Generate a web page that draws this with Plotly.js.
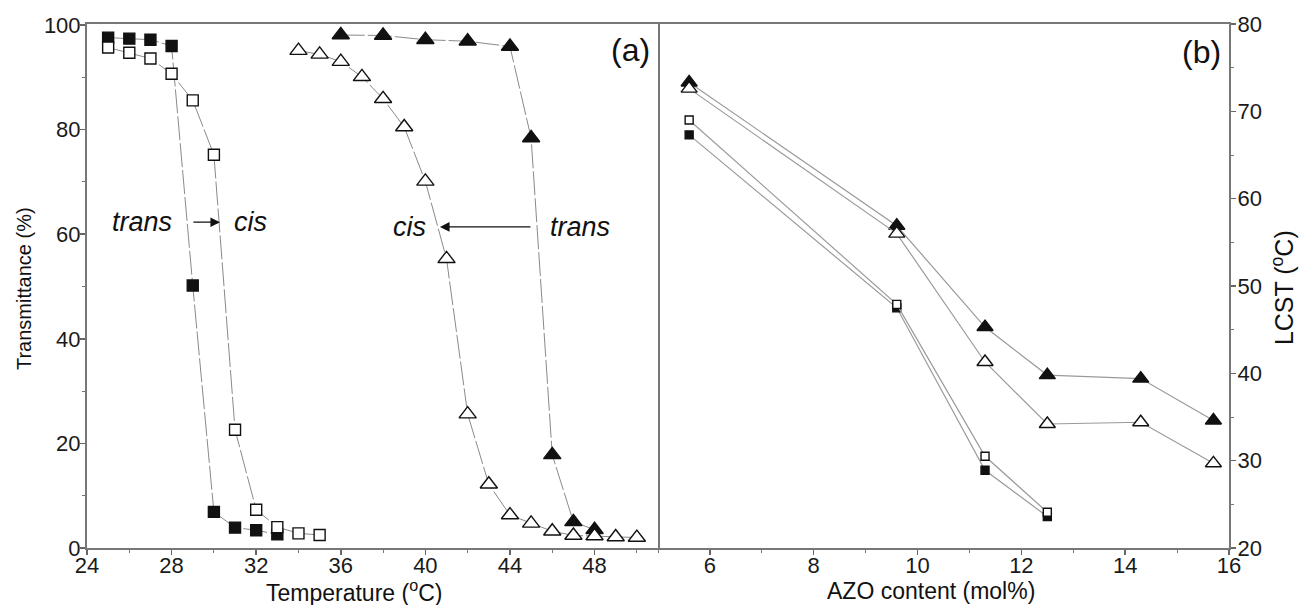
<!DOCTYPE html>
<html>
<head>
<meta charset="utf-8">
<script src="https://cdn.plot.ly/plotly-3.0.1.min.js"></script>
<style>html,body{margin:0;padding:0;background:#fff;}#chart{width:1301px;height:605px;}</style>
</head>
<body>
<div id="chart"></div>
<script>
// Panel (a): transmittance vs temperature
const tempSqTrans = [25, 26, 27, 28, 29, 30, 31, 32, 33];
const sqTransT    = [97.6, 97.4, 97.2, 96.0, 50.2, 6.9, 3.9, 3.4, 2.6];
const tempSqCis   = [25, 26, 27, 28, 29, 30, 31, 32, 33, 34, 35];
const sqCisT      = [95.7, 94.7, 93.6, 90.7, 85.6, 75.2, 22.6, 7.3, 4.0, 2.8, 2.5];
const tempTriTrans = [36, 38, 40, 42, 44, 45, 46, 47, 48];
const triTransT    = [98.1, 98.0, 97.2, 96.9, 95.9, 78.4, 17.8, 5.0, 3.5];
const tempTriCis   = [34, 35, 36, 37, 38, 39, 40, 41, 42, 43, 44, 45, 46, 47, 48, 49, 50];
const triCisT      = [95.1, 94.4, 93.0, 90.1, 85.9, 80.5, 70.1, 55.3, 25.6, 12.2, 6.3, 4.7, 3.2, 2.4, 2.3, 2.1, 2.0];

// Panel (b): LCST vs AZO content
const azoSq     = [5.6, 9.6, 11.3, 12.5];
const lcstSqTrans = [67.3, 47.5, 28.9, 23.6];
const lcstSqCis   = [69.0, 47.9, 30.5, 24.1];
const azoTri    = [5.6, 9.6, 11.3, 12.5, 14.3, 15.7];
const lcstTriTrans = [73.3, 56.9, 45.3, 39.8, 39.4, 34.6];
const lcstTriCis   = [72.6, 56.0, 41.3, 34.2, 34.4, 29.7];

const FONT = 'Liberation Sans, Arial, Helvetica, sans-serif';
const dashA = {color: '#8a8a8a', width: 1, dash: '24px,3px'};
const lineB = {color: '#9a9a9a', width: 1.2};

function tr(x, y, sym, fill, size, line, xa, ya) {
  return {x: x, y: y, type: 'scatter', mode: 'lines+markers', xaxis: xa, yaxis: ya,
    line: line, cliponaxis: false,
    marker: {symbol: sym, size: size, color: fill, line: {color: '#111', width: 1.4}}};
}

const data = [
  tr(tempSqTrans, sqTransT, 'square', '#111', 11, dashA, 'x', 'y'),
  tr(tempSqCis, sqCisT, 'square', '#fff', 11, dashA, 'x', 'y'),
  tr(tempTriTrans, triTransT, 'triangle-up', '#111', 15, dashA, 'x', 'y'),
  tr(tempTriCis, triCisT, 'triangle-up', '#fff', 15, dashA, 'x', 'y'),
  tr(azoSq, lcstSqTrans, 'square', '#111', 8, lineB, 'x2', 'y2'),
  tr(azoSq, lcstSqCis, 'square', '#fff', 8, lineB, 'x2', 'y2'),
  tr(azoTri, lcstTriTrans, 'triangle-up', '#111', 14, lineB, 'x2', 'y2'),
  tr(azoTri, lcstTriCis, 'triangle-up', '#fff', 14, lineB, 'x2', 'y2')
];

const axCommon = {
  showgrid: false, zeroline: false, showline: true, linecolor: '#777', linewidth: 2,
  mirror: true, ticks: 'outside', ticklen: 5, tickwidth: 1.5, tickcolor: '#666',
  tickfont: {family: FONT, size: 22, color: '#1a1a1a'}
};

const layout = {
  width: 1301, height: 605,
  margin: {l: 87, r: 72, t: 24, b: 57},
  paper_bgcolor: '#fff', plot_bgcolor: '#fff',
  showlegend: false,
  font: {family: FONT, color: '#111'},
  xaxis: Object.assign({}, axCommon, {domain: [0, 0.5], range: [24, 51], tick0: 24, dtick: 4, anchor: 'y',
    ticklabelstandoff: -8,
    minor: {dtick: 2, ticks: 'outside', ticklen: 3, tickcolor: '#777', tickwidth: 1}}),
  yaxis: Object.assign({}, axCommon, {domain: [0, 1], range: [0, 100.2], tick0: 0, dtick: 20, anchor: 'x',
    ticklabelstandoff: -5,
    minor: {dtick: 10, ticks: 'outside', ticklen: 3, tickcolor: '#777', tickwidth: 1}}),
  xaxis2: Object.assign({}, axCommon, {domain: [0.5, 1], range: [5, 16], tick0: 0, dtick: 2, anchor: 'y2',
    ticklabelstandoff: -8,
    minor: {dtick: 1, ticks: 'outside', ticklen: 3, tickcolor: '#777', tickwidth: 1}}),
  yaxis2: Object.assign({}, axCommon, {domain: [0, 1], range: [20, 80], tick0: 20, dtick: 10, anchor: 'x2', side: 'right',
    mirror: false, ticklabelstandoff: -3,
    minor: {dtick: 5, ticks: 'outside', ticklen: 3, tickcolor: '#777', tickwidth: 1}}),
  annotations: [
    {xref: 'paper', yref: 'paper', x: 0.2338, y: -0.082, text: 'Temperature (<sup>o</sup>C)', showarrow: false,
      font: {size: 23, family: FONT, color: '#111'}, xanchor: 'center', yanchor: 'middle'},
    {xref: 'paper', yref: 'paper', x: 0.739, y: -0.082, text: 'AZO content (mol%)', showarrow: false,
      font: {size: 23, family: FONT, color: '#111'}, xanchor: 'center', yanchor: 'middle'},
    {xref: 'paper', yref: 'paper', x: -0.0552, y: 0.496, text: 'Transmittance (%)', showarrow: false, textangle: -90,
      font: {size: 20, family: FONT, color: '#111'}, xanchor: 'center', yanchor: 'middle'},
    {xref: 'paper', yref: 'paper', x: 1.0473, y: 0.496, text: 'LCST (<sup>o</sup>C)', showarrow: false, textangle: -90,
      font: {size: 25, family: FONT, color: '#111'}, xanchor: 'center', yanchor: 'middle'},
    {xref: 'paper', yref: 'paper', x: 0.4755, y: 0.950, text: '(a)', showarrow: false,
      font: {size: 32, family: FONT, color: '#111'}, xanchor: 'center', yanchor: 'middle'},
    {xref: 'paper', yref: 'paper', x: 0.9755, y: 0.947, text: '(b)', showarrow: false,
      font: {size: 32, family: FONT, color: '#111'}, xanchor: 'center', yanchor: 'middle'},
    {xref: 'x', yref: 'y', x: 26.58, y: 62.3, text: '<i>trans</i>', showarrow: false,
      font: {size: 27, family: FONT, color: '#111'}, xanchor: 'center', yanchor: 'middle'},
    {xref: 'x', yref: 'y', x: 31.71, y: 62.3, text: '<i>cis</i>', showarrow: false,
      font: {size: 27, family: FONT, color: '#111'}, xanchor: 'center', yanchor: 'middle'},
    {xref: 'x', yref: 'y', x: 30.29, y: 62.3, axref: 'x', ayref: 'y', ax: 28.96, ay: 62.3, text: '',
      showarrow: true, arrowhead: 2, arrowsize: 1.6, arrowwidth: 1.2, arrowcolor: '#111'},
    {xref: 'x', yref: 'y', x: 39.27, y: 61.4, text: '<i>cis</i>', showarrow: false,
      font: {size: 27, family: FONT, color: '#111'}, xanchor: 'center', yanchor: 'middle'},
    {xref: 'x', yref: 'y', x: 47.31, y: 61.4, text: '<i>trans</i>', showarrow: false,
      font: {size: 27, family: FONT, color: '#111'}, xanchor: 'center', yanchor: 'middle'},
    {xref: 'x', yref: 'y', x: 40.69, y: 61.4, axref: 'x', ayref: 'y', ax: 45.04, ay: 61.4, text: '',
      showarrow: true, arrowhead: 2, arrowsize: 1.6, arrowwidth: 1.2, arrowcolor: '#111'}
  ]
};

Plotly.newPlot('chart', data, layout, {displayModeBar: false, staticPlot: true});
</script>
</body>
</html>
